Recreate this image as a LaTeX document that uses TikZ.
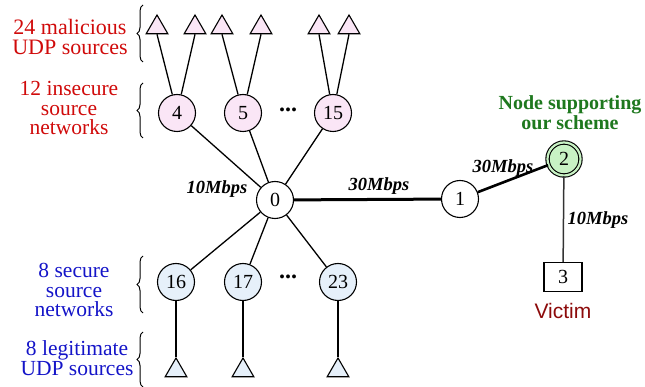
\documentclass[tikz,border=0pt]{standalone}
\usepackage{fontspec}
\setmainfont{Liberation Serif}
\setsansfont{Liberation Sans}
\usetikzlibrary{shapes.geometric,decorations.pathreplacing}
\definecolor{mred}{RGB}{208,10,10}
\definecolor{mblue}{RGB}{20,20,200}
\definecolor{mgreen}{RGB}{30,120,30}
\definecolor{vred}{RGB}{140,10,10}
\definecolor{pinkfill}{RGB}{250,230,246}
\definecolor{bluefill}{RGB}{230,240,250}
\definecolor{greenfill}{RGB}{200,242,196}
\tikzset{
  nd/.style={circle,draw,line width=1.1pt,minimum size=37pt,inner sep=0pt,fill=white,
    font=\fontsize{20}{20}\selectfont},
  ndpink/.style={nd,fill=pinkfill},
  ndblue/.style={nd,fill=bluefill},
  tri/.style={regular polygon,regular polygon sides=3,draw,line width=1.1pt,
    minimum size=25pt,inner sep=0pt},
  tripink/.style={tri,fill=pinkfill},
  triblue/.style={tri,fill=bluefill},
  lnk/.style={line width=1.3pt},
  bw/.style={font=\fontsize{18.5}{18.5}\selectfont\bfseries\itshape},
  lbl/.style={align=center,inner sep=0pt},
  brc/.style={decorate,decoration={brace,amplitude=6pt},line width=1pt},
  dotsl/.style={font=\fontsize{24}{24}\selectfont\bfseries}
}
\begin{document}
\begin{tikzpicture}[x=1pt,y=-1pt]
\useasboundingbox (0,0) rectangle (645,387);
% main nodes
\node[nd] (n0) at (275,200) {0};
\node[nd] (n1) at (460,199) {1};
\node[circle,draw,line width=1.1pt,minimum size=33pt,inner sep=0pt,fill=greenfill,
  double=greenfill,double distance=2.2pt,font=\fontsize{20}{20}\selectfont] (n2) at (564,159) {2};
\node[draw,line width=1.1pt,minimum width=38pt,minimum height=29pt,inner sep=0pt,
  font=\fontsize{20}{20}\selectfont] (n3) at (563,277) {3};
% insecure networks
\node[ndpink] (n4) at (177,113) {4};
\node[ndpink] (n5) at (243,113) {5};
\node[ndpink] (n15) at (333,113) {15};
\node[dotsl] (d1) at (288,110) {...};
% secure networks
\node[ndblue] (n16) at (176,282) {16};
\node[ndblue] (n17) at (243,282) {17};
\node[ndblue] (n23) at (338,282) {23};
\node[dotsl] (d2) at (288,277) {...};
% malicious sources
\node[tripink] (t1) at (157,27.5) {};
\node[tripink] (t2) at (195,27.5) {};
\node[tripink] (t3) at (222,27.5) {};
\node[tripink] (t4) at (261,27.5) {};
\node[tripink] (t5) at (319,27.5) {};
\node[tripink] (t6) at (349,27.5) {};
% legitimate sources
\node[triblue] (b1) at (176,370.5) {};
\node[triblue] (b2) at (243,370.5) {};
\node[triblue] (b3) at (338,370.5) {};
% links
\foreach \t/\n in {t1/n4,t2/n4,t3/n5,t4/n5,t5/n15,t6/n15}
  \draw[lnk] (\t.side 2) -- (\n);
\foreach \n in {n4,n5,n15,n16,n17,n23}
  \draw[lnk] (n0) -- (\n);
\foreach \n/\b in {n16/b1,n17/b2,n23/b3}
  \draw[lnk] (\n) -- (\b.corner 1);
\draw[line width=3pt] (n0) -- (n1);
\draw[line width=2.6pt] (n1) -- (n2);
\draw[line width=1.5pt,black!80] (n2) -- (n3);
% bandwidth labels
\node[bw] (l1) at (217,189) {10Mbps};
\node[bw] (l2) at (379,186) {30Mbps};
\node[bw] (l3) at (503,168) {30Mbps};
\node[bw] (l4) at (598,220) {10Mbps};
% annotations
\node[lbl,font=\fontsize{20}{20}\selectfont\bfseries,text=mgreen] (ns) at (570,113) {Node supporting\\our scheme};
\node[font=\sffamily\fontsize{21}{21}\selectfont,text=vred] (vic) at (563,311) {Victim};
\node[lbl,font=\fontsize{22}{20}\selectfont,text=mred] (a1) at (70,37) {24 malicious\\UDP sources};
\node[lbl,font=\fontsize{21.5}{19.7}\selectfont,text=mred] (a2) at (69,108) {12 insecure\\source\\networks};
\node[lbl,font=\fontsize{21.5}{19.7}\selectfont,text=mblue] (a3) at (74,290) {8 secure\\source\\networks};
\node[lbl,font=\fontsize{21.5}{18.5}\selectfont,text=mblue] (a4) at (77,358) {8 legitimate\\UDP sources};
% braces
\draw[brc] (143,62) -- (143,5);
\draw[brc] (143,138) -- (143,83);
\draw[brc] (143,313) -- (143,256);
\draw[brc] (143,387) -- (143,332);
\end{tikzpicture}
\end{document}
